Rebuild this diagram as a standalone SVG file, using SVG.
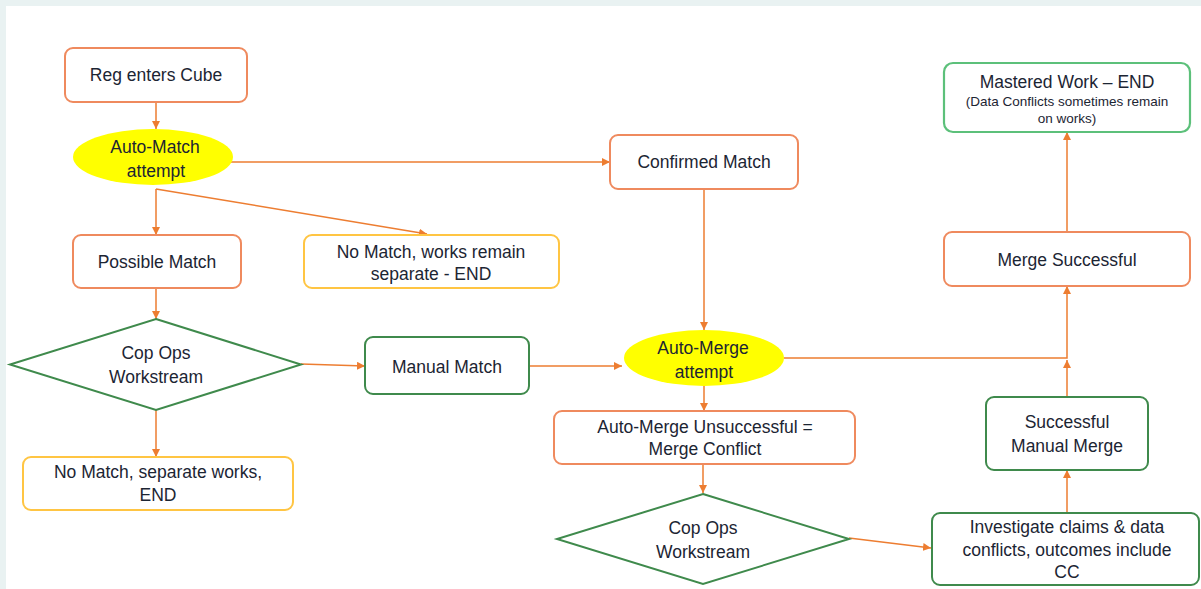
<svg xmlns="http://www.w3.org/2000/svg" width="1201" height="589" viewBox="0 0 1201 589">
<style>
text{font-family:"Liberation Sans",Arial,sans-serif;font-size:17.5px;fill:#1c2533;text-anchor:middle}
.small{font-size:13.5px}
.o{fill:#fff;stroke:#ef8a5e;stroke-width:2}
.y{fill:#fff;stroke:#ffc543;stroke-width:2}
.g{fill:#fff;stroke:#3f8a4c;stroke-width:2}
.lg{fill:#fff;stroke:#5cc07a;stroke-width:2.2}
.el{fill:#ffff00;stroke:none}
.c{fill:none;stroke:#ed7d31;stroke-width:1.5;marker-end:url(#ah)}
</style>
<defs>
<marker id="ah" markerUnits="userSpaceOnUse" markerWidth="9" markerHeight="9" refX="8" refY="4" orient="auto">
<path d="M0,0 L8,4 L0,8 z" fill="#ed7d31"/>
</marker>
</defs>
<rect x="0" y="0" width="1201" height="589" fill="#e9f2f2"/>
<rect x="6" y="6" width="1195" height="583" fill="#ffffff"/>

<g id="connectors">
<path class="c" d="M156 102 V129"/>
<path class="c" d="M230 162 H610"/>
<path class="c" d="M156 189 V235"/>
<path class="c" d="M156 189 L427 234"/>
<path class="c" d="M156 288 V319"/>
<path class="c" d="M301 364 L365 366"/>
<path class="c" d="M156 410 V457"/>
<path class="c" d="M529 366 H622"/>
<path class="c" d="M704 190 V330"/>
<path class="c" d="M704 386 V411"/>
<path class="c" d="M703 464 V493"/>
<path class="c" d="M849 538 L931 548"/>
<path class="c" d="M1067 513 V470"/>
<path class="c" d="M1067 397 V360"/>
<path class="c" d="M784 358 H1067 V286"/>
<path class="c" d="M1067 232 V132"/>
</g>

<g id="reg-enters-cube">
<rect class="o" x="65" y="48" width="182" height="54" rx="8"/>
<text x="156" y="81">Reg enters Cube</text>
</g>

<g id="auto-match">
<ellipse class="el" cx="153" cy="157" rx="80" ry="28"/>
<text x="155" y="153">Auto-Match</text>
<text x="156" y="177">attempt</text>
</g>

<g id="confirmed-match">
<rect class="o" x="610" y="135" width="188" height="54" rx="8"/>
<text x="704" y="168">Confirmed Match</text>
</g>

<g id="possible-match">
<rect class="o" x="73" y="235" width="168" height="53" rx="8"/>
<text x="157" y="268">Possible Match</text>
</g>

<g id="no-match-remain">
<rect class="y" x="304" y="235" width="255" height="53" rx="8"/>
<text x="431" y="258">No Match, works remain</text>
<text x="431" y="280">separate - END</text>
</g>

<g id="cop-ops-1">
<polygon class="g" points="156,319 301,364.5 156,410 10,364.5"/>
<text x="156" y="359">Cop Ops</text>
<text x="156" y="383">Workstream</text>
</g>

<g id="manual-match">
<rect class="g" x="365" y="337" width="164" height="57" rx="8"/>
<text x="447" y="373">Manual Match</text>
</g>

<g id="no-match-separate">
<rect class="y" x="23" y="457" width="270" height="53" rx="8"/>
<text x="158" y="478">No Match, separate works,</text>
<text x="158" y="501">END</text>
</g>

<g id="auto-merge">
<ellipse class="el" cx="704" cy="358" rx="80" ry="28"/>
<text x="703" y="354">Auto-Merge</text>
<text x="704" y="378">attempt</text>
</g>

<g id="auto-merge-unsuccessful">
<rect class="o" x="554" y="411" width="301" height="53" rx="8"/>
<text x="705" y="433">Auto-Merge Unsuccessful =</text>
<text x="705" y="455">Merge Conflict</text>
</g>

<g id="cop-ops-2">
<polygon class="g" points="703,494 849,539 703,584 557,539"/>
<text x="703" y="534">Cop Ops</text>
<text x="703" y="558">Workstream</text>
</g>

<g id="investigate">
<rect class="g" x="932" y="513" width="267" height="72" rx="8"/>
<text x="1067" y="533">Investigate claims &amp; data</text>
<text x="1067" y="556">conflicts, outcomes include</text>
<text x="1067" y="578">CC</text>
</g>

<g id="successful-manual-merge">
<rect class="g" x="986" y="397" width="162" height="73" rx="8"/>
<text x="1067" y="428">Successful</text>
<text x="1067" y="452">Manual Merge</text>
</g>

<g id="merge-successful">
<rect class="o" x="944" y="232" width="246" height="54" rx="8"/>
<text x="1067" y="266">Merge Successful</text>
</g>

<g id="mastered-work">
<rect class="lg" x="944" y="63" width="246" height="69" rx="9"/>
<text x="1067" y="88">Mastered Work – END</text>
<text class="small" x="1067" y="106">(Data Conflicts sometimes remain</text>
<text class="small" x="1067" y="123">on works)</text>
</g>
</svg>
